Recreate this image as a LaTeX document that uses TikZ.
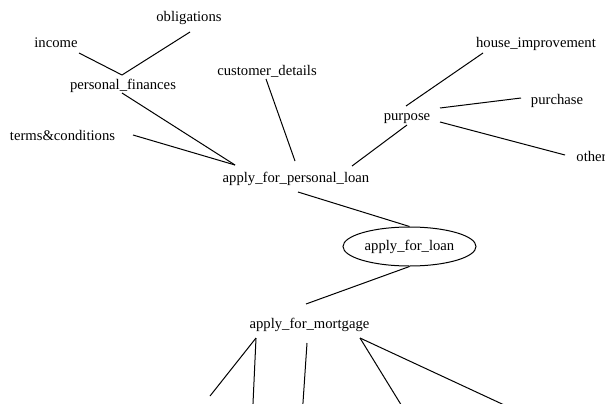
\documentclass[tikz,border=0pt]{standalone}
\usepackage{fontspec}
\setmainfont{Liberation Serif}
\usetikzlibrary{shapes.geometric,calc}
\begin{document}
\begin{tikzpicture}[x=0.75pt,y=-0.75pt,
  lbl/.style={font=\fontsize{11}{13}\selectfont, inner sep=0pt, text height=8.5pt, text depth=2.5pt},
  edge/.style={line width=0.75pt, black},
  oval/.style={lbl, draw, line width=0.75pt, ellipse, minimum width=99.75pt, minimum height=29.25pt}]
\useasboundingbox (0,0) rectangle (605,403);
% nodes
\node[lbl] (ob)  at (189,18)    {obligations};
\node[lbl] (in)  at (56,43)     {income};
\node[lbl] (pf)  at (123,85)    {personal\_finances};
\node[lbl] (tc)  at (62.5,136)  {terms\&conditions};
\node[lbl] (cd)  at (267,71)    {customer\_details};
\node[lbl] (apl) at (296,178)   {apply\_for\_personal\_loan};
\node[lbl] (hi)  at (536,43)    {house\_improvement};
\node[lbl] (pu)  at (557,100)   {purchase};
\node[lbl] (pp)  at (407,116)   {purpose};
\node[lbl] (ot)  at (591.5,157) {other};
\node[oval] (afl) at (409.5,246.5) {apply\_for\_loan};
\node[lbl] (afm) at (309.5,324) {apply\_for\_mortgage};
% free ends below the picture
\coordinate (b1) at (210,396);
\coordinate (b2) at (252.7,410);
\coordinate (b3) at (302.5,410);
\coordinate (b4) at (404.3,410);
\coordinate (b5) at (515,410);
% edges
\draw[edge] ($(in)+(23,10)$) -- ($(pf)+(-1,-10)$);
\draw[edge] ($(ob)+(1,14)$) -- ($(pf)+(-1,-10)$);
\draw[edge] ($(pf)+(-1,8)$) -- ($(apl)+(-61,-13)$);
\draw[edge] ($(tc)+(70.5,-1)$) -- ($(apl)+(-61,-13)$);
\draw[edge] ($(cd)+(-1,8)$) -- ($(apl)+(-1,-17)$);
\draw[edge] ($(pp)+(0,9)$) -- ($(apl)+(56,-12)$);
\draw[edge] ($(pp)+(-1,-10)$) -- ($(hi)+(-53,10)$);
\draw[edge] ($(pp)+(33,-8)$) -- ($(pu)+(-36,-2)$);
\draw[edge] ($(pp)+(33,6)$) -- ($(ot)+(-26.5,-2)$);
\draw[edge] ($(apl)+(2,14)$) -- (afl.north);
\draw[edge] (afl.south) -- ($(afm)+(-3.5,-20)$);
\draw[edge] ($(afm)+(-53.5,14)$) -- (b1);
\draw[edge] ($(afm)+(-53.5,14)$) -- (b2);
\draw[edge] ($(afm)+(-2.5,19)$) -- (b3);
\draw[edge] ($(afm)+(50.5,14)$) -- (b4);
\draw[edge] ($(afm)+(50.5,14)$) -- (b5);
\end{tikzpicture}
\end{document}
